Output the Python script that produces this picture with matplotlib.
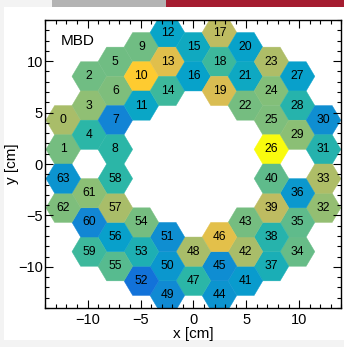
import numpy as np
import matplotlib
matplotlib.use("Agg")
import matplotlib.pyplot as plt
from matplotlib.collections import PolyCollection
from matplotlib.colors import LinearSegmentedColormap, Normalize
from matplotlib.patches import Rectangle
from matplotlib.ticker import MultipleLocator

plt.rcParams['font.family'] = ['Liberation Sans', 'DejaVu Sans']

# MBD channel layout: hex column index and half-row index of each PMT (channel 0..63)
channels = list(range(64))
hex_col = [-5, -5, -4, -4, -4, -3, -3, -3, -3, -2, -2, -2, -1, -1, -1, 0,
           0, 1, 1, 1, 2, 2, 2, 3, 3, 3, 3, 4, 4, 4, 5, 5,
           5, 5, 4, 4, 4, 3, 3, 3, 3, 2, 2, 2, 1, 1, 1, 0,
           0, -1, -1, -1, -2, -2, -2, -3, -3, -3, -3, -4, -4, -4, -5, -5]
hex_halfrow = [3, 1, 6, 4, 2, 7, 5, 3, 1, 8, 6, 4, 9, 7, 5, 8,
               6, 9, 7, 5, 8, 6, 4, 7, 5, 3, 1, 6, 4, 2, 3, 1,
               -3, -1, -6, -4, -2, -7, -5, -3, -1, -8, -6, -4, -9, -7, -5, -8,
               -6, -9, -7, -5, -8, -6, -4, -7, -5, -3, -1, -6, -4, -2, -3, -1]
# per-channel response (relative units)
values = [0.68, 0.60, 0.59, 0.64, 0.49, 0.59, 0.61, 0.265, 0.49, 0.59, 0.88, 0.39, 0.38, 0.79, 0.52, 0.41,
          0.37, 0.716, 0.52, 0.77, 0.37, 0.40, 0.60, 0.69, 0.62, 0.61, 1.00, 0.36, 0.475, 0.63, 0.30, 0.47,
          0.645, 0.69, 0.58, 0.57, 0.335, 0.44, 0.475, 0.716, 0.57, 0.345, 0.68, 0.60, 0.32, 0.295, 0.80, 0.49,
          0.68, 0.285, 0.33, 0.30, 0.20, 0.45, 0.60, 0.557, 0.36, 0.68, 0.49, 0.52, 0.27, 0.63, 0.61, 0.32]

hex_radius = 1.64  # cm, centre-to-corner

# ROOT "bird" palette
stops = [0.0, 0.125, 0.25, 0.375, 0.5, 0.625, 0.75, 0.875, 1.0]
red = [0.2082, 0.0592, 0.0780, 0.0232, 0.1802, 0.5301, 0.8186, 0.9956, 0.9764]
green = [0.1664, 0.3599, 0.5041, 0.6419, 0.7178, 0.7492, 0.7328, 0.7862, 0.9832]
blue = [0.5293, 0.8684, 0.8385, 0.7914, 0.6425, 0.4662, 0.3499, 0.1968, 0.0539]
bird = LinearSegmentedColormap.from_list("bird", list(zip(stops, zip(red, green, blue))))

W, H = 344, 347
fig = plt.figure(figsize=(W / 100, H / 100), dpi=100, facecolor='#f3f3f3')
# page background and header bars
for (x0, y0, w, h, c) in [(4, 7, 340, 333, 'white'),
                          (52, 0, 114, 7, '#b3b3b3'),
                          (166, 0, 178, 7, '#a51c30')]:
    fig.patches.append(Rectangle((x0 / W, 1 - (y0 + h) / H), w / W, h / H,
                                 transform=fig.transFigure, facecolor=c,
                                 edgecolor='none', zorder=-10))

ax = fig.add_axes([45.3 / W, 39 / H, 296.2 / W, 288 / H])
ax.set_zorder(5)
ax.set_facecolor('white')

cx = np.array(hex_col) * 1.5 * hex_radius
cy = np.array(hex_halfrow) * np.sqrt(3) / 2 * hex_radius
ang = np.deg2rad(np.arange(0, 360, 60))
polys = [np.column_stack([x + hex_radius * np.cos(ang), y + hex_radius * np.sin(ang)])
         for x, y in zip(cx, cy)]
coll = PolyCollection(polys, array=np.array(values), cmap=bird, norm=Normalize(0, 1),
                      edgecolors='face', linewidths=0.3)
ax.add_collection(coll)

for ch, x, y in zip(channels, cx, cy):
    ax.text(x, y, str(ch), ha='center', va='center', fontsize=8.7, color='black')

ax.text(-12.5, 11.6, "MBD", fontsize=11, ha='left', va='baseline')

ax.set_xlim(-14, 14)
ax.set_ylim(-14, 14)
ax.xaxis.set_major_locator(MultipleLocator(5))
ax.yaxis.set_major_locator(MultipleLocator(5))
ax.xaxis.set_minor_locator(MultipleLocator(1))
ax.yaxis.set_minor_locator(MultipleLocator(1))
ax.tick_params(which='both', direction='in', top=True, right=True, width=0.8, labelsize=10.5)
ax.tick_params(which='major', length=6)
ax.tick_params(which='minor', length=3.2)
ax.tick_params(axis='x', pad=3.5)
ax.tick_params(axis='y', pad=1.8)
for s in ax.spines.values():
    s.set_linewidth(1.0)

ax.set_xlabel("x [cm]", fontsize=11)
ax.set_ylabel("y [cm]", fontsize=11)
ax.xaxis.set_label_coords(0.5, -0.066)
ax.yaxis.set_label_coords(-0.09, 0.5)

fig.savefig("out.png", dpi=100, facecolor=fig.get_facecolor())
